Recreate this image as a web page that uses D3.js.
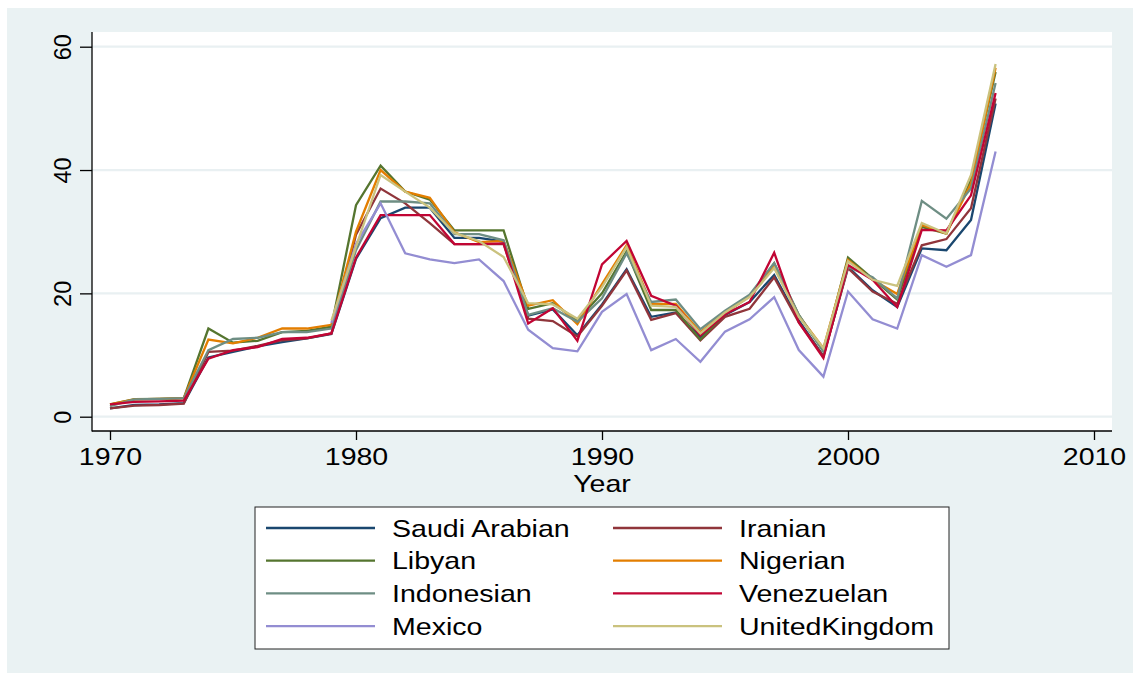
<!DOCTYPE html>
<html>
<head>
<meta charset="utf-8">
<script src="https://cdn.jsdelivr.net/npm/d3@7"></script>
<style>
  body { margin: 0; background: #fff; }
  svg { display: block; font-family: "Liberation Sans", Arial, sans-serif; }
</style>
</head>
<body>
<svg id="chart" width="1133" height="673"></svg>
<script>
// years on the x axis
var years = d3.range(1970, 2007);

// crude prices, one array per series (null = no data)
var saudiArabian = [1.35, 1.9, 2.0, 2.2, 9.6, 10.5, 11.4, 12.1, 12.7, 13.4, 25.6, 32.2, 33.9, 33.9, 29.0, 29.0, 28.4, 16.4, 17.4, 13.2, 18.2, 23.9, 16.2, 16.9, 12.9, 16.5, 18.6, 23.0, 15.6, 9.8, 24.3, 20.5, 17.8, 27.3, 27.0, 31.9, 50.8];
var iranian = [1.35, 1.8, 1.9, 2.1, 10.5, 10.7, 11.5, 12.4, 12.7, 13.5, 29.5, 37.0, 34.6, 31.4, 28.0, 28.0, 28.0, 15.9, 15.5, 13.0, 18.0, 23.7, 15.7, 16.8, 12.4, 16.2, 17.5, 22.6, 15.3, 9.8, 24.1, 20.3, 18.3, 27.8, 28.8, 33.8, 51.6];
var libyan = [2.0, 2.85, 2.9, 3.0, 14.3, 12.0, 12.3, 13.7, 13.9, 14.6, 34.3, 40.7, 36.5, 35.2, 30.2, 30.2, 30.2, 17.5, 18.4, 15.6, 20.0, 26.8, 17.3, 17.3, 12.5, 16.8, 19.6, 24.9, 16.5, 10.6, 25.8, 22.4, 19.0, 30.8, 29.7, 38.4, 55.9];
var nigerian = [2.0, 2.8, 2.9, 3.0, 12.5, 11.9, 12.8, 14.3, 14.3, 14.9, 30.0, 40.0, 36.5, 35.5, 29.9, 28.3, 28.5, 18.0, 18.9, 15.0, 21.5, 27.8, 18.3, 18.3, 13.7, 16.9, 19.5, 24.3, 16.4, 11.1, 25.4, 22.2, 19.9, 31.1, 29.7, 37.8, 56.6];
var indonesian = [1.7, 2.8, 2.9, 3.0, 10.8, 12.6, 12.8, 13.7, 13.7, 14.3, 27.0, 34.9, 34.9, 34.6, 29.6, 29.6, 28.6, 16.5, 17.6, 15.4, 19.2, 26.5, 18.6, 19.0, 14.2, 17.2, 19.8, 24.9, 16.5, 10.6, 24.3, 22.6, 19.2, 35.0, 32.1, 37.0, 54.1];
var venezuelan = [2.0, 2.4, 2.5, 2.6, 9.4, 10.8, 11.3, 12.6, 12.8, 13.5, 25.8, 32.7, 32.7, 32.7, 28.0, 28.0, 28.1, 15.1, 17.6, 12.3, 24.7, 28.5, 19.6, 18.0, 13.2, 16.6, 18.6, 26.6, 15.3, 9.5, 24.6, 22.2, 17.8, 30.3, 30.2, 35.9, 52.5];
var mexico = [null, null, null, null, null, null, null, null, null, 15.2, 28.0, 34.6, 26.5, 25.5, 24.9, 25.5, 22.0, 14.1, 11.1, 10.6, 17.0, 19.9, 10.8, 12.6, 8.9, 13.8, 15.8, 19.4, 10.8, 6.5, 20.3, 15.8, 14.3, 26.2, 24.3, 26.2, 43.0];
var unitedKingdom = [null, null, null, null, null, null, null, null, null, 15.6, 27.6, 39.2, 36.5, 33.9, 29.8, 28.5, 25.9, 18.4, 18.2, 15.9, 21.0, 27.5, 18.0, 17.8, 13.5, 16.9, 19.4, 24.1, 16.2, 11.1, 25.2, 22.2, 21.2, 31.4, 29.7, 39.2, 57.2];

var seriesNames = ["Saudi Arabian", "Iranian", "Libyan", "Nigerian", "Indonesian", "Venezuelan", "Mexico", "UnitedKingdom"];
var seriesValues = [saudiArabian, iranian, libyan, nigerian, indonesian, venezuelan, mexico, unitedKingdom];
var seriesColors = ["#1a476f", "#90353b", "#55752f", "#e37e00", "#6e8e84", "#c10534", "#938dd2", "#cac27e"];

var xTicks = [1970, 1980, 1990, 2000, 2010];
var yTicks = [0, 20, 40, 60];

var svg = d3.select("#chart");

// plot frame
var plot = { left: 92, right: 1112, top: 32, bottom: 431 };
var stretch = 1.2;
var fontSize = 23.8;

svg.append("rect").attr("x", 7).attr("y", 8).attr("width", 1126).attr("height", 665).attr("fill", "#eaf2f3");
svg.append("rect").attr("x", plot.left).attr("y", plot.top)
  .attr("width", plot.right - plot.left).attr("height", plot.bottom - plot.top).attr("fill", "#fff");

var x = d3.scaleLinear().domain([1970, 2010]).range([110, 1094]);
var y = d3.scaleLinear().domain([0, 60]).range([416.7, 46.7]);

// gridlines
svg.append("g").selectAll("line")
  .data(yTicks)
  .enter().append("line")
  .attr("x1", plot.left).attr("x2", plot.right)
  .attr("y1", function(d) { return y(d); })
  .attr("y2", function(d) { return y(d); })
  .attr("stroke", "#e9f0f2")
  .attr("stroke-width", 2.2);

// y axis
var yAxis = svg.append("g")
  .attr("transform", "translate(" + plot.left + ",0)")
  .call(d3.axisLeft(y).tickValues(yTicks).tickSize(12).tickSizeOuter(0).tickFormat(d3.format("d")));
yAxis.select(".domain").remove();
yAxis.selectAll("line").attr("stroke", "#000").attr("stroke-width", 1.3);
yAxis.selectAll("text")
  .attr("x", 0).attr("y", -21).attr("dy", 0)
  .attr("transform", "rotate(-90)")
  .attr("text-anchor", "middle")
  .attr("font-size", 23.5)
  .attr("font-family", "Liberation Sans, Arial, sans-serif")
  .attr("fill", "#000");

// x axis
var xAxis = svg.append("g")
  .attr("transform", "translate(0," + plot.bottom + ")")
  .call(d3.axisBottom(x).tickValues(xTicks).tickSize(9).tickSizeOuter(0).tickFormat(d3.format("d")));
xAxis.select(".domain").remove();
xAxis.selectAll("line").attr("stroke", "#000").attr("stroke-width", 1.3);
xAxis.selectAll("text")
  .attr("y", 34.5).attr("dy", 0)
  .attr("transform", "scale(" + stretch + ",1)")
  .attr("font-size", fontSize)
  .attr("font-family", "Liberation Sans, Arial, sans-serif")
  .attr("fill", "#000");

// axis lines
svg.append("line").attr("x1", plot.left).attr("x2", plot.left)
  .attr("y1", plot.top).attr("y2", plot.bottom + 0.5)
  .attr("stroke", "#000").attr("stroke-width", 1.3);
svg.append("line").attr("x1", plot.left).attr("x2", plot.right)
  .attr("y1", plot.bottom).attr("y2", plot.bottom)
  .attr("stroke", "#000").attr("stroke-width", 1.3);

// x title
svg.append("text")
  .attr("transform", "translate(602,492) scale(" + stretch + ",1)")
  .attr("text-anchor", "middle")
  .attr("font-size", fontSize)
  .text("Year");

// series lines
var line = d3.line()
  .defined(function(d) { return d.v !== null; })
  .x(function(d) { return x(d.year); })
  .y(function(d) { return y(d.v); });

var series = seriesNames.map(function(name, i) {
  return {
    name: name,
    color: seriesColors[i],
    points: years.map(function(yr, j) { return { year: yr, v: seriesValues[i][j] }; })
  };
});

svg.append("g").selectAll("path")
  .data(series)
  .enter().append("path")
  .attr("d", function(d) { return line(d.points); })
  .attr("fill", "none")
  .attr("stroke", function(d) { return d.color; })
  .attr("stroke-width", 2.3)
  .attr("stroke-linejoin", "miter");

// legend
var legend = svg.append("g");
legend.append("rect")
  .attr("x", 255).attr("y", 507).attr("width", 694).attr("height", 142)
  .attr("fill", "#fff").attr("stroke", "#222").attr("stroke-width", 1);

var items = legend.selectAll("g.item")
  .data(series)
  .enter().append("g")
  .attr("class", "item")
  .attr("transform", function(d, i) {
    var col = i % 2, row = Math.floor(i / 2);
    return "translate(" + (col === 0 ? 266 : 613) + "," + (528 + row * 32.7) + ")";
  });

items.append("line")
  .attr("x1", 0).attr("x2", 109)
  .attr("stroke", function(d) { return d.color; })
  .attr("stroke-width", 2.3);

items.append("text")
  .attr("transform", "translate(126,8.5) scale(" + stretch + ",1)")
  .attr("font-size", fontSize)
  .attr("fill", "#000")
  .text(function(d) { return d.name; });
</script>
</body>
</html>
